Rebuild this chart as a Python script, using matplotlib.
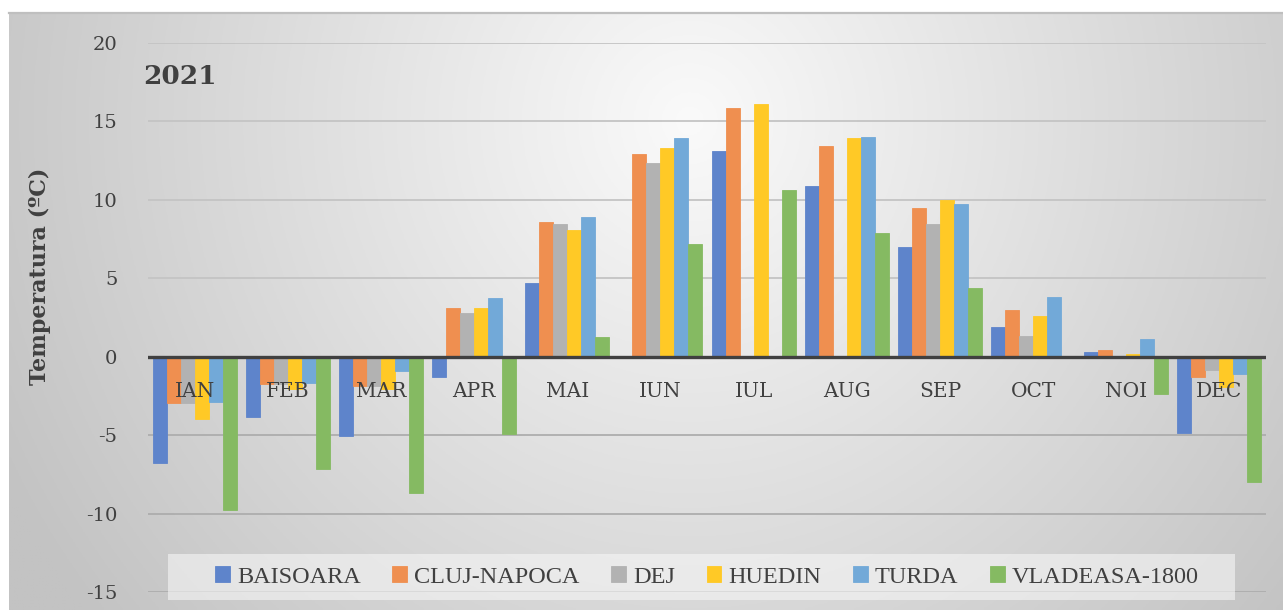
import numpy as np
import matplotlib
matplotlib.use("Agg")
import matplotlib.pyplot as plt
from matplotlib.patches import Rectangle
from matplotlib.lines import Line2D

plt.rcParams["axes.unicode_minus"] = False

MONTHS = ["IAN", "FEB", "MAR", "APR", "MAI", "IUN", "IUL", "AUG", "SEP", "OCT", "NOI", "DEC"]
STATIONS = ["BAISOARA", "CLUJ-NAPOCA", "DEJ", "HUEDIN", "TURDA", "VLADEASA-1800"]
nan = np.nan
# monthly mean temperature 2021, missing bars = nan
baisoara = [-6.75, -3.86, -5.03, -1.3, 4.67, nan, 13.1, 10.9, 7.0, 1.9, 0.3, -4.85]
cluj = [-2.97, -1.76, -1.87, 3.1, 8.6, 12.9, 15.83, 13.43, 9.47, 3.0, 0.4, -1.27]
dej = [-2.97, -1.76, -1.87, 2.76, 8.43, 12.35, nan, nan, 8.45, 1.3, nan, -0.87]
huedin = [-3.99, -2.08, -2.08, 3.1, 8.1, 13.3, 16.13, 13.94, 10.0, 2.6, 0.2, -1.95]
turda = [-2.87, -1.66, -0.89, 3.77, 8.9, 13.94, nan, 14.0, 9.73, 3.8, 1.1, -1.08]
vladeasa = [-9.76, -7.17, -8.7, -4.9, 1.25, 7.2, 10.63, 7.9, 4.41, nan, -2.38, -7.97]

SERIES = [baisoara, cluj, dej, huedin, turda, vladeasa]
COLORS = ["#5E84CB", "#EF8F50", "#B2B2B2", "#FFC926", "#72A9D8", "#85BA62"]

W, H = 1283, 610
fig = plt.figure(figsize=(W / 100, H / 100), dpi=100)
fig.patch.set_facecolor("white")

# gradient background of the chart area
bg = fig.add_axes([9 / W, 0, 1 - 9 / W, (H - 12) / H])
xx, yy = np.meshgrid(np.linspace(9, W, 400), np.linspace(12, H, 200))
r = np.sqrt(((xx - 690) / 700) ** 2 + ((yy - 120) / 720) ** 2)
shade = np.clip(250 - 50 * r, 195, 251) / 255.0
bg.imshow(np.dstack([shade, shade, shade]), aspect="auto", extent=[0, 1, 0, 1], origin="upper")
bg.axis("off")
fig.add_artist(Line2D([9 / W, 1], [1 - 13 / H, 1 - 13 / H], color="#bfbfbf", lw=1.6))

ax = fig.add_axes([148 / W, 18 / H, (1266 - 148) / W, (592 - 43) / H])
ax.patch.set_alpha(0)

x = np.arange(len(MONTHS))
bw = 0.15
for k, (vals, name, col) in enumerate(zip(SERIES, STATIONS, COLORS)):
    ax.bar(x + (k - 2.5) * bw, vals, width=bw, color=col, label=name, zorder=2,
           edgecolor=col, linewidth=0.6)

ax.set_ylim(-15, 20)
ax.set_xlim(-0.5, len(MONTHS) - 0.5)
ax.set_yticks(range(-15, 21, 5))
for t in range(-15, 21, 5):
    if t != 0:
        ax.axhline(t, color="#c4c4c4" if t > 0 else "#adadad", lw=1.3, zorder=1)
ax.axhline(0, color="#404040", lw=2.4, zorder=3)

ax.set_xticks([])
ax.tick_params(axis="y", length=0, pad=22, labelsize=14, labelcolor="#404040")
for lab in ax.get_yticklabels():
    lab.set_family("DejaVu Serif")
for s in ax.spines.values():
    s.set_visible(False)

for i, m in enumerate(MONTHS):
    ax.annotate(m, (i, 0), xytext=(0, -25), textcoords="offset points",
                ha="center", va="center", fontsize=14.5, family="DejaVu Serif",
                color="#404040", zorder=5)

ax.set_ylabel("Temperatura (ºC)", family="DejaVu Serif", fontweight="bold",
              fontsize=16, color="#404040")
ax.yaxis.set_label_coords((51 - 148) / (1266 - 148), (592 - 276) / (592 - 43))

fig.text(143 / W, 1 - 76 / H, "2021", family="DejaVu Serif", fontweight="bold",
         fontsize=19, color="#404040", va="center", ha="left")

# legend box (semi transparent, gridline shows through)
ax.add_patch(Rectangle((168 / W, 10 / H), (1235 - 168) / W, 46 / H,
                       transform=fig.transFigure, facecolor="#f6f6f6",
                       alpha=0.6, edgecolor="none", zorder=4, clip_on=False))
leg = ax.legend(loc="center", bbox_to_anchor=(0.5, (33 - 18) / (592 - 43)), ncol=6,
                frameon=False, handlelength=0.6, handleheight=0.6,
                handletextpad=0.3, columnspacing=1.3,
                prop={"family": "Liberation Serif", "size": 17.5})
leg.set_zorder(6)
for t in leg.get_texts():
    t.set_color("#404040")

fig.savefig("out.png", dpi=100)
